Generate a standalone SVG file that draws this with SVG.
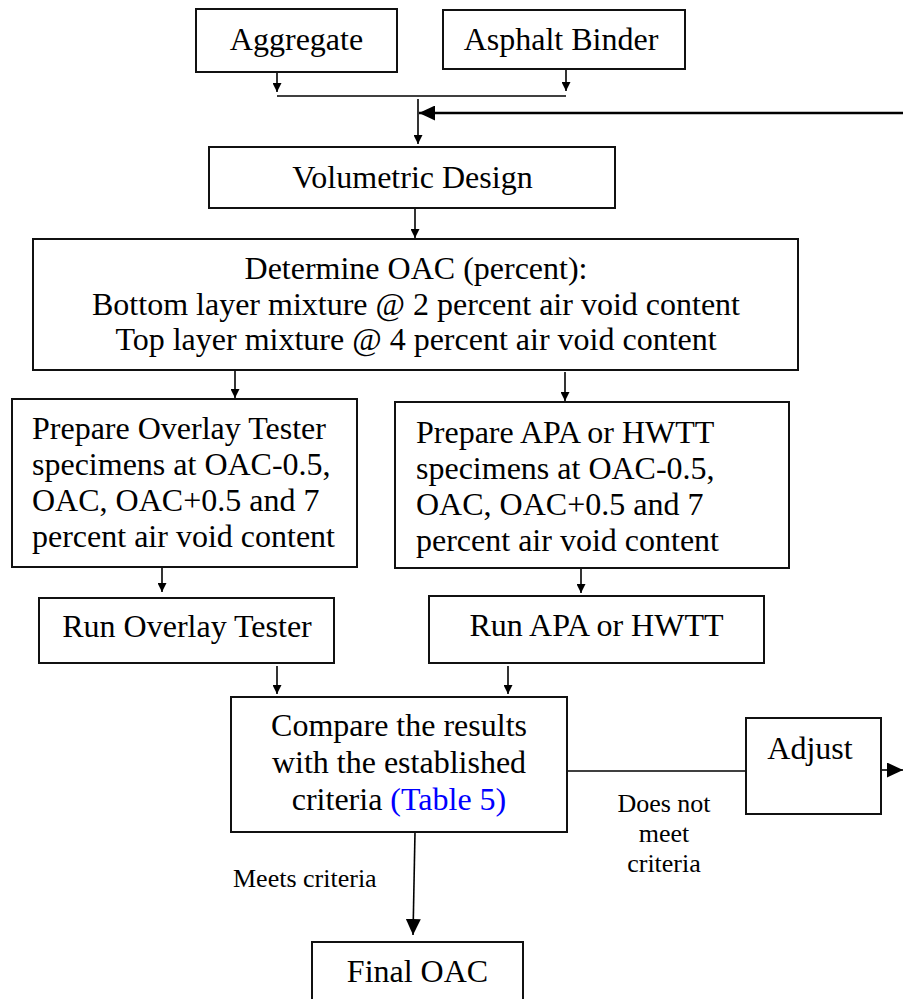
<svg xmlns="http://www.w3.org/2000/svg" width="903" height="999" viewBox="0 0 903 999">
<style>
  .box{fill:#fff;stroke:#111;stroke-width:2}
  .t{font-family:"Liberation Serif","Times New Roman",serif;font-size:32px;fill:#000}
  .c{text-anchor:middle}
  .lbl{font-family:"Liberation Serif","Times New Roman",serif;font-size:26px;fill:#000}
  .ln{stroke:#000;stroke-width:1.6;fill:none}
  .lnb{stroke:#000;stroke-width:2.4;fill:none}
  .blue{fill:#0000ff}
</style>
<defs>
  <marker id="sm" markerUnits="userSpaceOnUse" markerWidth="9" markerHeight="9" viewBox="0 0 9 9" refX="9" refY="4.5" orient="auto">
    <path d="M0,0 L9,4.5 L0,9 z" fill="#000"/>
  </marker>
  <marker id="lg" markerUnits="userSpaceOnUse" markerWidth="16" markerHeight="15" viewBox="0 0 16 15" refX="16" refY="7.5" orient="auto">
    <path d="M0,0 L16,7.5 L0,15 z" fill="#000"/>
  </marker>
</defs>

<g id="connectors">
  <line class="ln" x1="277" y1="72" x2="277" y2="92" marker-end="url(#sm)"/>
  <line class="ln" x1="566" y1="69" x2="566" y2="91" marker-end="url(#sm)"/>
  <line class="ln" x1="277" y1="96" x2="566" y2="96"/>
  <line class="ln" x1="418" y1="99" x2="418" y2="144" marker-end="url(#sm)"/>
  <line class="lnb" x1="903" y1="113" x2="419" y2="113" marker-end="url(#lg)"/>
  <line class="ln" x1="415" y1="208" x2="415" y2="238" marker-end="url(#sm)"/>
  <line class="ln" x1="235" y1="370" x2="235" y2="398" marker-end="url(#sm)"/>
  <line class="ln" x1="565" y1="372" x2="565" y2="401" marker-end="url(#sm)"/>
  <line class="ln" x1="162" y1="567" x2="162" y2="592" marker-end="url(#sm)"/>
  <line class="ln" x1="581" y1="568" x2="581" y2="593" marker-end="url(#sm)"/>
  <line class="ln" x1="277" y1="666" x2="277" y2="694" marker-end="url(#sm)"/>
  <line class="ln" x1="508" y1="666" x2="508" y2="694" marker-end="url(#sm)"/>
  <line class="ln" x1="567" y1="771" x2="746" y2="771"/>
  <line class="ln" x1="881" y1="770" x2="903" y2="770" marker-end="url(#lg)"/>
  <line class="ln" x1="415" y1="832" x2="413" y2="935" marker-end="url(#lg)"/>
  <text class="lbl c" x="664" y="812">Does not</text>
  <text class="lbl c" x="664" y="842">meet</text>
  <text class="lbl c" x="664" y="872">criteria</text>
  <text class="lbl" x="233" y="887">Meets criteria</text>
</g>

<g id="aggregate">
  <rect class="box" x="196" y="9" width="201" height="63"/>
  <text class="t c" x="296.5" y="50">Aggregate</text>
</g>
<g id="asphalt-binder">
  <rect class="box" x="443" y="10" width="242" height="59"/>
  <text class="t c" x="561" y="50">Asphalt Binder</text>
</g>
<g id="volumetric-design">
  <rect class="box" x="209" y="147" width="406" height="61"/>
  <text class="t c" x="412.5" y="188">Volumetric Design</text>
</g>
<g id="determine-oac">
  <rect class="box" x="33" y="239" width="765" height="131"/>
  <text class="t c" x="416" y="279">Determine OAC (percent):</text>
  <text class="t c" x="416" y="315">Bottom layer mixture @ 2 percent air void content</text>
  <text class="t c" x="416" y="350">Top layer mixture @ 4 percent air void content</text>
</g>
<g id="prepare-ot">
  <rect class="box" x="12" y="399" width="345" height="168"/>
  <text class="t" x="32" y="439">Prepare Overlay Tester</text>
  <text class="t" x="32" y="475">specimens at OAC-0.5,</text>
  <text class="t" x="32" y="511">OAC, OAC+0.5 and 7</text>
  <text class="t" x="32" y="547">percent air void content</text>
</g>
<g id="prepare-apa">
  <rect class="box" x="395" y="402" width="394" height="166"/>
  <text class="t" x="416" y="443">Prepare APA or HWTT</text>
  <text class="t" x="416" y="479">specimens at OAC-0.5,</text>
  <text class="t" x="416" y="515">OAC, OAC+0.5 and 7</text>
  <text class="t" x="416" y="551">percent air void content</text>
</g>
<g id="run-ot">
  <rect class="box" x="39" y="598" width="295" height="65"/>
  <text class="t c" x="187" y="637">Run Overlay Tester</text>
</g>
<g id="run-apa">
  <rect class="box" x="429" y="596" width="335" height="67"/>
  <text class="t c" x="596.5" y="636">Run APA or HWTT</text>
</g>
<g id="compare">
  <rect class="box" x="231" y="697" width="336" height="135"/>
  <text class="t c" x="399" y="736">Compare the results</text>
  <text class="t c" x="399" y="773">with the established</text>
  <text class="t c" x="399" y="810">criteria <tspan class="blue">(Table 5)</tspan></text>
</g>
<g id="adjust">
  <rect class="box" x="746" y="718" width="135" height="96"/>
  <text class="t c" x="810" y="759">Adjust</text>
</g>
<g id="final-oac">
  <rect class="box" x="312" y="942" width="211" height="70"/>
  <text class="t c" x="417.5" y="982">Final OAC</text>
</g>
</svg>
